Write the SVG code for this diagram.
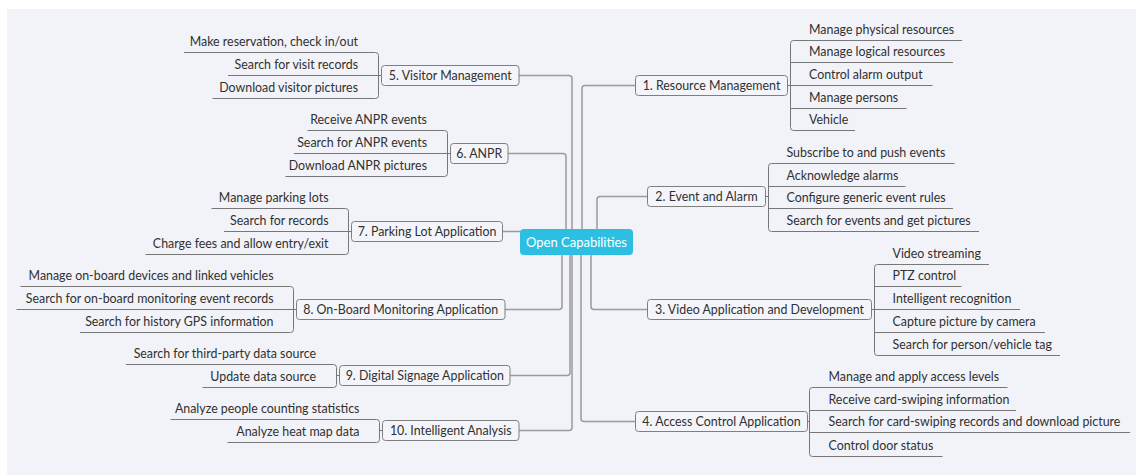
<svg xmlns="http://www.w3.org/2000/svg" width="1136" height="475" viewBox="0 0 1136 475">
<style>
.conn{fill:none;stroke:#9a9a9a;stroke-width:1.5}
.br{fill:none;stroke:#777;stroke-width:1}
.ul{stroke:#777;stroke-width:1}
.box{fill:#f4f5fa;stroke:#7f7f7f;stroke-width:1}
.t{font-family:Lato,"Liberation Sans",sans-serif;font-size:12.4px;fill:#303030}
.l{text-anchor:end}
.m{text-anchor:middle}
.ctr{fill:#2cbfe1}
.ct{font-family:Lato,"Liberation Sans",sans-serif;font-size:13px;fill:#fff;text-anchor:middle}
</style>
<rect width="1136" height="475" fill="#ffffff"/>
<rect x="7" y="9" width="1129" height="466" fill="#f2f3f8"/>
<g id="connectors">
<path class="conn" d="M519,75.5 H569 Q572,75.5 572,78.5 V242"/>
<path class="conn" d="M508,153.5 H563 Q566,153.5 566,156.5 V242"/>
<path class="conn" d="M502.5,231.5 H521"/>
<path class="conn" d="M505,309.5 H559 Q562,309.5 562,306.5 V242"/>
<path class="conn" d="M510,375.5 H567 Q570,375.5 570,372.5 V242"/>
<path class="conn" d="M519,430.5 H569 Q572,430.5 572,427.5 V242"/>
<path class="conn" d="M635.5,85.5 H585 Q582,85.5 582,88.5 V242"/>
<path class="conn" d="M647.5,196.5 H600 Q597,196.5 597,199.5 V242"/>
<path class="conn" d="M647.5,309.5 H594 Q591,309.5 591,306.5 V242"/>
<path class="conn" d="M635.5,421.5 H584 Q581,421.5 581,418.5 V242"/>
<path class="br" d="M375.5,52.5 Q378.5,52.5 378.5,55.5 V95.5 Q378.5,98.5 375.5,98.5 M378.5,75.5 H381"/>
<path class="br" d="M444.5,130.5 Q447.5,130.5 447.5,133.5 V173.5 Q447.5,176.5 444.5,176.5 M447.5,153.5 H450.5"/>
<path class="br" d="M345.5,208.5 Q348.5,208.5 348.5,211.5 V251.5 Q348.5,254.5 345.5,254.5 M348.5,231.5 H351.5"/>
<path class="br" d="M290.5,286.5 Q293.5,286.5 293.5,289.5 V329.5 Q293.5,332.5 290.5,332.5 M293.5,309.5 H296.5"/>
<path class="br" d="M333.5,364.5 Q336.5,364.5 336.5,367.5 V384.5 Q336.5,387.5 333.5,387.5 M336.5,375.5 H339.5"/>
<path class="br" d="M376.5,419.5 Q379.5,419.5 379.5,422.5 V439.5 Q379.5,442.5 376.5,442.5 M379.5,430.5 H382.5"/>
<path class="br" d="M793.5,40.5 Q790.5,40.5 790.5,43.5 V127.5 Q790.5,130.5 793.5,130.5 M787.5,85.5 H790.5"/>
<path class="br" d="M771.5,163.5 Q768.5,163.5 768.5,166.5 V228.5 Q768.5,231.5 771.5,231.5 M765.5,196.5 H768.5"/>
<path class="br" d="M877.5,264.5 Q874.5,264.5 874.5,267.5 V352.5 Q874.5,355.5 877.5,355.5 M871.5,309.5 H874.5"/>
<path class="br" d="M812.5,387.5 Q809.5,387.5 809.5,390.5 V453.5 Q809.5,456.5 812.5,456.5 M807.5,421.5 H809.5"/>
</g>
<g id="center"><rect class="ctr" x="520" y="229" width="113" height="26" rx="4"/><text class="ct" x="576.5" y="246.5">Open Capabilities</text></g>
<g id="b5"><rect class="box" x="381.5" y="65.5" width="137.5" height="20" rx="3"/><text class="t m" x="450.25" y="79.5">5. Visitor Management</text></g>
<g id="n5a"><line class="ul" x1="184" y1="52.5" x2="375.5" y2="52.5"/><text class="t l" x="358" y="46">Make reservation, check in/out</text></g>
<g id="n5b"><line class="ul" x1="228" y1="75.5" x2="378.5" y2="75.5"/><text class="t l" x="358" y="69">Search for visit records</text></g>
<g id="n5c"><line class="ul" x1="212.5" y1="98.5" x2="375.5" y2="98.5"/><text class="t l" x="358" y="92">Download visitor pictures</text></g>
<g id="b6"><rect class="box" x="450.5" y="143.5" width="57.5" height="20" rx="3"/><text class="t m" x="479.25" y="157.5">6. ANPR</text></g>
<g id="n6a"><line class="ul" x1="307.5" y1="130.5" x2="444.5" y2="130.5"/><text class="t l" x="427" y="124">Receive ANPR events</text></g>
<g id="n6b"><line class="ul" x1="294" y1="153.5" x2="447.5" y2="153.5"/><text class="t l" x="427" y="147">Search for ANPR events</text></g>
<g id="n6c"><line class="ul" x1="285.5" y1="176.5" x2="444.5" y2="176.5"/><text class="t l" x="427" y="170">Download ANPR pictures</text></g>
<g id="b7"><rect class="box" x="351.5" y="221.5" width="151" height="20" rx="3"/><text class="t m" x="427" y="235.5">7. Parking Lot Application</text></g>
<g id="n7a"><line class="ul" x1="211.5" y1="208.5" x2="345.5" y2="208.5"/><text class="t l" x="328.5" y="202">Manage parking lots</text></g>
<g id="n7b"><line class="ul" x1="224" y1="231.5" x2="348.5" y2="231.5"/><text class="t l" x="328.5" y="225">Search for records</text></g>
<g id="n7c"><line class="ul" x1="145.5" y1="254.5" x2="345.5" y2="254.5"/><text class="t l" x="328.5" y="248">Charge fees and allow entry/exit</text></g>
<g id="b8"><rect class="box" x="296.5" y="299.5" width="208.5" height="20" rx="3"/><text class="t m" x="400.75" y="313.5">8. On-Board Monitoring Application</text></g>
<g id="n8a"><line class="ul" x1="20.5" y1="286.5" x2="290.5" y2="286.5"/><text class="t l" x="273.5" y="280">Manage on-board devices and linked vehicles</text></g>
<g id="n8b"><line class="ul" x1="16.5" y1="309.5" x2="293.5" y2="309.5"/><text class="t l" x="273.5" y="303">Search for on-board monitoring event records</text></g>
<g id="n8c"><line class="ul" x1="80" y1="332.5" x2="290.5" y2="332.5"/><text class="t l" x="273.5" y="326">Search for history GPS information</text></g>
<g id="b9"><rect class="box" x="339.5" y="365.5" width="170.5" height="20" rx="3"/><text class="t m" x="424.75" y="379.5">9. Digital Signage Application</text></g>
<g id="n9a"><line class="ul" x1="126" y1="364.5" x2="333.5" y2="364.5"/><text class="t l" x="316" y="358">Search for third-party data source</text></g>
<g id="n9b"><line class="ul" x1="202.5" y1="387.5" x2="333.5" y2="387.5"/><text class="t l" x="316" y="381">Update data source</text></g>
<g id="b10"><rect class="box" x="382.5" y="420.5" width="136.5" height="20" rx="3"/><text class="t m" x="450.75" y="434.5">10. Intelligent Analysis</text></g>
<g id="n10a"><line class="ul" x1="170.5" y1="419.5" x2="376.5" y2="419.5"/><text class="t l" x="359.5" y="413">Analyze people counting statistics</text></g>
<g id="n10b"><line class="ul" x1="227.5" y1="442.5" x2="376.5" y2="442.5"/><text class="t l" x="359.5" y="436">Analyze heat map data</text></g>
<g id="b1"><rect class="box" x="635.5" y="75.5" width="152" height="20" rx="3"/><text class="t m" x="711.5" y="89.5">1. Resource Management</text></g>
<g id="n1a"><line class="ul" x1="793.5" y1="40.5" x2="962" y2="40.5"/><text class="t" x="809" y="34">Manage physical resources</text></g>
<g id="n1b"><line class="ul" x1="790.5" y1="62.5" x2="953" y2="62.5"/><text class="t" x="809" y="56">Manage logical resources</text></g>
<g id="n1c"><line class="ul" x1="790.5" y1="85.5" x2="932.5" y2="85.5"/><text class="t" x="809" y="79">Control alarm output</text></g>
<g id="n1d"><line class="ul" x1="790.5" y1="108.5" x2="906.5" y2="108.5"/><text class="t" x="809" y="102">Manage persons</text></g>
<g id="n1e"><line class="ul" x1="793.5" y1="130.5" x2="855" y2="130.5"/><text class="t" x="809" y="124">Vehicle</text></g>
<g id="b2"><rect class="box" x="647.5" y="186.5" width="118" height="20" rx="3"/><text class="t m" x="706.5" y="200.5">2. Event and Alarm</text></g>
<g id="n2a"><line class="ul" x1="771.5" y1="163.5" x2="954.5" y2="163.5"/><text class="t" x="786.5" y="157">Subscribe to and push events</text></g>
<g id="n2b"><line class="ul" x1="768.5" y1="186.5" x2="905.5" y2="186.5"/><text class="t" x="786.5" y="180">Acknowledge alarms</text></g>
<g id="n2c"><line class="ul" x1="768.5" y1="208.5" x2="953" y2="208.5"/><text class="t" x="786.5" y="202">Configure generic event rules</text></g>
<g id="n2d"><line class="ul" x1="771.5" y1="231.5" x2="979" y2="231.5"/><text class="t" x="786.5" y="225">Search for events and get pictures</text></g>
<g id="b3"><rect class="box" x="647.5" y="299.5" width="224" height="20" rx="3"/><text class="t m" x="759.5" y="313.5">3. Video Application and Development</text></g>
<g id="n3a"><line class="ul" x1="877.5" y1="264.5" x2="989" y2="264.5"/><text class="t" x="892.5" y="258">Video streaming</text></g>
<g id="n3b"><line class="ul" x1="874.5" y1="286.5" x2="961.5" y2="286.5"/><text class="t" x="892.5" y="280">PTZ control</text></g>
<g id="n3c"><line class="ul" x1="874.5" y1="309.5" x2="1020" y2="309.5"/><text class="t" x="892.5" y="303">Intelligent recognition</text></g>
<g id="n3d"><line class="ul" x1="874.5" y1="332.5" x2="1045" y2="332.5"/><text class="t" x="892.5" y="326">Capture picture by camera</text></g>
<g id="n3e"><line class="ul" x1="877.5" y1="355.5" x2="1060" y2="355.5"/><text class="t" x="892.5" y="349">Search for person/vehicle tag</text></g>
<g id="b4"><rect class="box" x="635.5" y="411.5" width="172" height="20" rx="3"/><text class="t m" x="721.5" y="425.5">4. Access Control Application</text></g>
<g id="n4a"><line class="ul" x1="812.5" y1="387.5" x2="1007.5" y2="387.5"/><text class="t" x="828.5" y="381">Manage and apply access levels</text></g>
<g id="n4b"><line class="ul" x1="809.5" y1="410.5" x2="1016" y2="410.5"/><text class="t" x="828.5" y="404">Receive card-swiping information</text></g>
<g id="n4c"><line class="ul" x1="809.5" y1="432.5" x2="1130" y2="432.5"/><text class="t" x="828.5" y="426">Search for card-swiping records and download picture</text></g>
<g id="n4d"><line class="ul" x1="812.5" y1="456.5" x2="942.5" y2="456.5"/><text class="t" x="828.5" y="450">Control door status</text></g>
</svg>
